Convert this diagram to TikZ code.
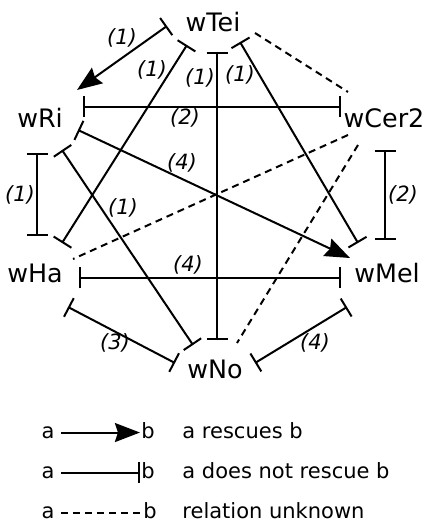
\documentclass[tikz,border=0pt]{standalone}
\usepackage{fontspec}
\setmainfont{DejaVu Sans}
\usepackage{tikz}
\usetikzlibrary{arrows.meta,calc}
\newcommand{\genefont}{\fontsize{12.7}{14}\selectfont}
\newcommand{\weightfont}{\fontsize{10.5}{12}\selectfont\itshape}
\newcommand{\keyfont}{\fontsize{10.5}{12}\selectfont}

\begin{document}
\begin{tikzpicture}[x=0.5pt,y=-0.5pt,
    stop/.tip={Bar[width=10.5pt]},
    hit/.tip={Stealth[length=12.5pt,width=9.5pt,inset=1.5pt]},
    gene/.style={font=\genefont,inner sep=0pt,anchor=base},
    weight/.style={font=\weightfont},
    rel/.style={line width=1pt},
    norescue/.style={rel,stop-stop},
    rescue/.style={rel,stop-hit},
    unknown/.style={rel,dash pattern=on 3.5pt off 2.5pt},
    keya/.style={font=\keyfont,anchor=base,text height=1ex,text depth=0pt,inner ysep=0pt,inner xsep=3pt},
    keyb/.style={font=\keyfont,anchor=base,text height=1ex,text depth=0pt,inner ysep=0pt,inner xsep=0.5pt},
    keytext/.style={font=\keyfont,anchor=base west,inner sep=0pt}]
    \useasboundingbox (0,0) rectangle (427,522);
    % genes
    \node[gene] (wTei) at (213,32) {wTei};
    \node[gene] (wRi) at (40,128) {wRi};
    \node[gene] (wCer2) at (384,128) {wCer2};
    \node[gene] (wHa) at (35,283) {wHa};
    \node[gene] (wMel) at (387,283) {wMel};
    \node[gene] (wNo) at (215,378) {wNo};
    % relations
    \draw[rescue] ($(wTei.base)+(-46,-6)$) -- ($(wRi.base)+(37,-38)$);
    \draw[norescue] ($(wTei.base)+(-26,13)$) -- ($(wHa.base)+(27,-40)$);
    \draw[norescue] ($(wTei.base)+(4,20)$) -- ($(wNo.base)+(2,-38)$);
    \draw[norescue] ($(wTei.base)+(27,10)$) -- ($(wMel.base)+(-29,-40)$);
    \draw[unknown] ($(wTei.base)+(42,1)$) -- ($(wCer2.base)+(-36,-36)$);
    \draw[norescue] ($(wRi.base)+(43,-21)$) -- ($(wCer2.base)+(-43,-21)$);
    \draw[rescue] ($(wRi.base)+(38,2)$) -- ($(wMel.base)+(-37,-25)$);
    \draw[norescue] ($(wRi.base)+(22,22)$) -- ($(wNo.base)+(-22,-33)$);
    \draw[norescue] ($(wRi.base)+(-3,25)$) -- ($(wHa.base)+(2,-47)$);
    \draw[norescue] ($(wCer2.base)+(1,22)$) -- ($(wMel.base)+(-2,-43)$);
    \draw[unknown] ($(wCer2.base)+(-36,7)$) -- ($(wHa.base)+(38,-24)$);
    \draw[unknown] ($(wCer2.base)+(-26,17)$) -- ($(wNo.base)+(22,-35)$);
    \draw[norescue] ($(wHa.base)+(44,-5)$) -- ($(wMel.base)+(-46,-5)$);
    \draw[norescue] ($(wHa.base)+(33,24)$) -- ($(wNo.base)+(-40,-15)$);
    \draw[norescue] ($(wMel.base)+(-40,24)$) -- ($(wNo.base)+(40,-15)$);
    % evidence counts
    \foreach \x/\y/\t [count=\i] in {122/38/1,152/70/1,200/78/1,240/75/1,185/118/2,182/163/4,
        123/208/1,20/195/1,403/195/2,188/265/4,115/343/3,315/343/4}
      \node[weight] (w\i) at (\x,\y) {(\t)};
    % legend
    \node[keya] (ka1) at (48,438) {a};
    \node[keyb] (kb1) at (148,438) {b};
    \node[keytext] (kt1) at (182,438) {a rescues b};
    \node[keya] (ka2) at (48,478) {a};
    \node[keyb] (kb2) at (148,478) {b};
    \node[keytext] (kt2) at (182,478) {a does not rescue b};
    \node[keya] (ka3) at (48,518) {a};
    \node[keyb] (kb3) at (150,518) {b};
    \node[keytext] (kt3) at (182,518) {relation unknown};
    \draw[rel,-hit] (ka1) -- (kb1);
    \draw[rel,-stop] (ka2) -- (kb2);
    \draw[unknown] (ka3) -- (kb3);
\end{tikzpicture}
\end{document}
